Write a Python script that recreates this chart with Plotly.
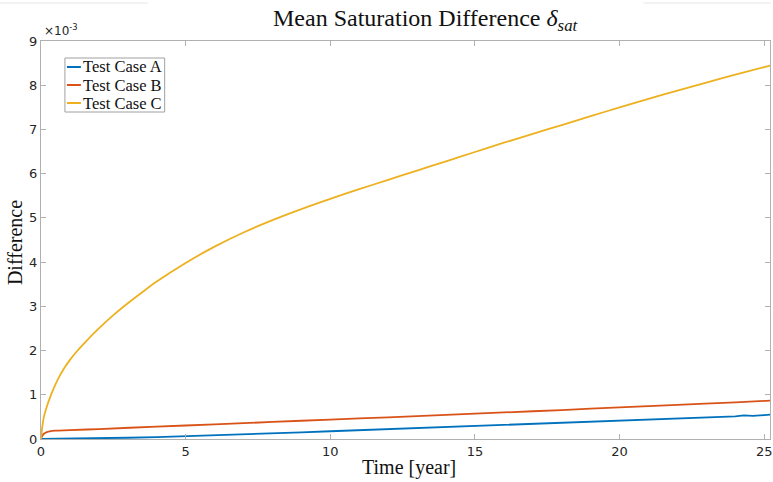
import plotly.graph_objects as go

# ---- data (values in units of 1e-3) ----
t_A = [0, 1, 2, 3, 4, 5, 6, 7, 8, 9, 10, 11, 12, 13, 14, 15, 16, 16.5, 17, 17.5, 18,
       18.5, 19, 19.5, 20, 20.5, 21, 21.5, 22, 22.5, 23, 23.5, 24, 24.3, 24.6, 25, 25.3]
diff_A = [0, 0.005, 0.015, 0.028, 0.044, 0.062, 0.082, 0.103, 0.126, 0.15, 0.175, 0.198,
          0.222, 0.245, 0.268, 0.29, 0.312, 0.325, 0.335, 0.345, 0.36, 0.37, 0.38, 0.395,
          0.41, 0.42, 0.432, 0.445, 0.455, 0.468, 0.48, 0.495, 0.51, 0.535, 0.525, 0.54, 0.555]

t_B = [0, 0.05, 0.1, 0.2, 0.3, 0.5, 1, 2, 4, 6, 8, 10, 12, 14, 16, 18, 20, 22, 24, 25.3]
diff_B = [0, 0.08, 0.12, 0.155, 0.175, 0.19, 0.2, 0.225, 0.28, 0.33, 0.385, 0.44, 0.49,
          0.545, 0.6, 0.655, 0.715, 0.77, 0.83, 0.87]

t_C = [0, 0.05, 0.1, 0.2, 0.3, 0.45, 0.6, 0.8, 1.0, 1.25, 1.5, 2.0, 2.5, 3.0, 3.5, 4.0,
       5, 6, 7, 8, 9, 10, 11, 12, 13, 14, 15, 16, 17, 18, 19, 20, 21, 22, 23, 24, 25.3]
diff_C = [0, 0.3, 0.5, 0.73, 0.92, 1.16, 1.37, 1.6, 1.79, 1.99, 2.17, 2.5, 2.8, 3.07,
          3.32, 3.56, 3.98, 4.35, 4.67, 4.95, 5.2, 5.43, 5.65, 5.86, 6.07, 6.28, 6.49,
          6.7, 6.9, 7.1, 7.3, 7.5, 7.69, 7.88, 8.06, 8.24, 8.46]

series_names = ["Test Case A", "Test Case B", "Test Case C"]
series_colors = ["#0072BD", "#D95319", "#EDB120"]
x_ticks = [0, 5, 10, 15, 20, 25]
y_ticks = [0, 1, 2, 3, 4, 5, 6, 7, 8, 9]

W, H = 773, 482
L, R, T, B = 41, 1, 41, 43
PW, PH = W - L - R, H - T - B


def px(x):
    return (x - L) / PW


def py(y):
    return (H - B - y) / PH


SERIF = "Liberation Serif"
fig = go.Figure()
for t, v, n, c, sh in zip([t_A, t_B, t_C], [diff_A, diff_B, diff_C], series_names,
                          series_colors, ["linear", "spline", "spline"]):
    fig.add_trace(go.Scatter(x=t, y=v, mode="lines", name=n,
                             line=dict(color=c, width=1.8, shape=sh, smoothing=0.8),
                             showlegend=False))

axis_common = dict(showline=True, linecolor="#b0b0b0", linewidth=1, mirror="ticks",
                   ticks="inside", ticklen=5, tickcolor="#b0b0b0", showgrid=False,
                   zeroline=False, ticklabeloverflow="allow",
                   tickfont=dict(family="DejaVu Sans", size=13, color="#262626"))
fig.update_xaxes(range=[0, 25.2], tickvals=x_ticks, **axis_common)
fig.update_yaxes(range=[0, 9], tickvals=y_ticks, **axis_common)

shapes = []
annotations = []
# custom legend
shapes.append(dict(type="rect", xref="paper", yref="paper", x0=px(65), x1=px(165),
                   y0=py(112), y1=py(58), line=dict(color="#a0a0a0", width=1),
                   fillcolor="white", layer="above"))
for i, (n, c) in enumerate(zip(series_names, series_colors)):
    yy = 67 + i * 18
    shapes.append(dict(type="line", xref="paper", yref="paper", x0=px(67), x1=px(81),
                       y0=py(yy), y1=py(yy), line=dict(color=c, width=2), layer="above"))
    annotations.append(dict(text=n, xref="paper", yref="paper", x=px(81), y=py(yy),
                            xanchor="left", yanchor="middle", showarrow=False,
                            font=dict(family=SERIF, size=16.5, color="#111")))
# faint lines at top of figure
shapes.append(dict(type="line", xref="paper", yref="paper", x0=px(0), x1=px(148),
                   y0=py(3), y1=py(3), line=dict(color="#e6e6e6", width=1)))
shapes.append(dict(type="line", xref="paper", yref="paper", x0=px(645), x1=px(773),
                   y0=py(3), y1=py(3), line=dict(color="#e6e6e6", width=1)))

annotations.append(dict(text="Mean Saturation Difference <i>δ</i><sub><i>sat</i></sub>",
                        xref="paper", yref="paper", x=px(427), y=py(20), xanchor="center",
                        yanchor="middle", showarrow=False,
                        font=dict(family=SERIF, size=24, color="#111")))
annotations.append(dict(text="×10<sup>-3</sup>", xref="paper", yref="paper", x=px(42),
                        y=py(40), xanchor="left", yanchor="bottom", showarrow=False,
                        font=dict(family="DejaVu Sans", size=12, color="#262626")))
annotations.append(dict(text="Time [year]", xref="paper", yref="paper", x=px(410),
                        y=py(467), xanchor="center", yanchor="middle", showarrow=False,
                        font=dict(family=SERIF, size=20, color="#111")))
annotations.append(dict(text="Difference", xref="paper", yref="paper", x=px(15),
                        y=py(243), xanchor="center", yanchor="middle", showarrow=False,
                        textangle=-90, font=dict(family=SERIF, size=20, color="#111")))

fig.update_layout(width=W, height=H, margin=dict(l=L, r=R, t=T, b=B),
                  paper_bgcolor="white", plot_bgcolor="white",
                  shapes=shapes, annotations=annotations, showlegend=False)
fig.write_html("out.html")
